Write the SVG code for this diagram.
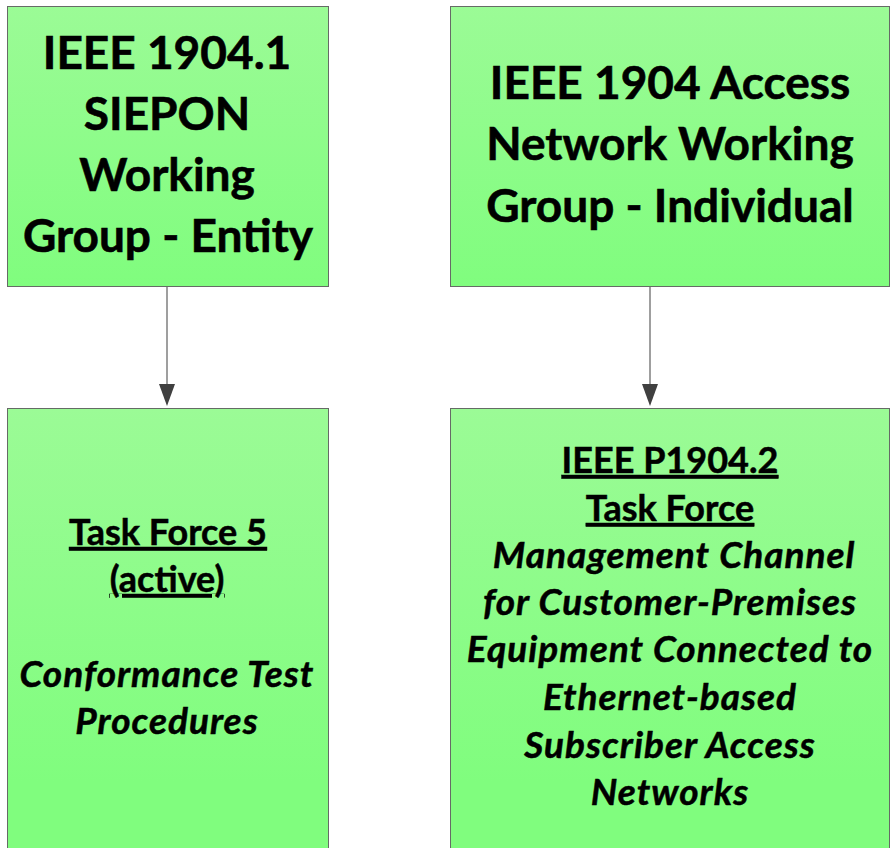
<svg xmlns="http://www.w3.org/2000/svg" width="890" height="848" viewBox="0 0 890 848">
<defs>
<linearGradient id="gTop" x1="0" y1="0" x2="0" y2="1">
<stop offset="0" stop-color="#9bfb96"/>
<stop offset="1" stop-color="#80fd7e"/>
</linearGradient>
<linearGradient id="gBot" gradientUnits="userSpaceOnUse" x1="0" y1="408" x2="0" y2="848">
<stop offset="0" stop-color="#9bfb96"/>
<stop offset="0.85" stop-color="#80fd7e"/>
<stop offset="1" stop-color="#80fd7e"/>
</linearGradient>
</defs>
<style>
.box{stroke:#666b66;stroke-width:1}
.h{font-family:Lato,"Liberation Sans",sans-serif;font-weight:bold;font-size:46px;fill:#000;stroke:#000;stroke-width:0.6px;text-anchor:middle}
.s{font-family:Lato,"Liberation Sans",sans-serif;font-weight:bold;font-size:36px;fill:#000;stroke:#000;stroke-width:0.5px;text-anchor:middle}
.u{text-decoration:underline;text-decoration-thickness:2.5px}
.i{font-style:italic;font-size:37px;letter-spacing:1px}
.line{stroke:#7f7f7f;stroke-width:1.5;fill:none}
.head{fill:#404040}
</style>
<rect width="890" height="848" fill="#fff"/>
<g id="connectors">
<line class="line" x1="167" y1="286" x2="167" y2="386"/>
<polygon class="head" points="159,384 175,384 167,406"/>
<line class="line" x1="650" y1="286" x2="650" y2="386"/>
<polygon class="head" points="642,384 658,384 650,406"/>
</g>
<g id="node-siepon">
<rect class="box" x="7.5" y="6.5" width="321" height="280" fill="url(#gTop)"/>
<text class="h" x="167" y="69">IEEE 1904.1</text>
<text class="h" x="167" y="130">SIEPON</text>
<text class="h" x="167" y="191">Working</text>
<text class="h" x="168" y="252">Group - Entity</text>
</g>
<g id="node-access">
<rect class="box" x="450.5" y="6.5" width="439" height="280" fill="url(#gTop)"/>
<text class="h" x="670" y="99">IEEE 1904 Access</text>
<text class="h" x="670" y="160">Network Working</text>
<text class="h" x="670" y="222">Group - Individual</text>
</g>
<g id="node-tf5">
<rect class="box" x="7.5" y="408.5" width="321" height="460" fill="url(#gBot)"/>
<text class="s u" x="168" y="545">Task Force 5</text>
<text class="s u" x="167" y="592">(active)</text>
<text class="s i" x="167" y="687">Conformance Test</text>
<text class="s i" x="167" y="734">Procedures</text>
</g>
<g id="node-p19042">
<rect class="box" x="450.5" y="408.5" width="439" height="460" fill="url(#gBot)"/>
<text class="s u" x="670" y="473">IEEE P1904.2</text>
<text class="s u" x="670" y="521">Task Force</text>
<text class="s i" x="674" y="568">Management Channel</text>
<text class="s i" x="670" y="615">for Customer-Premises</text>
<text class="s i" x="670" y="662">Equipment Connected to</text>
<text class="s i" x="670" y="710">Ethernet-based</text>
<text class="s i" x="670" y="758">Subscriber Access</text>
<text class="s i" x="670" y="805">Networks</text>
</g>
</svg>
